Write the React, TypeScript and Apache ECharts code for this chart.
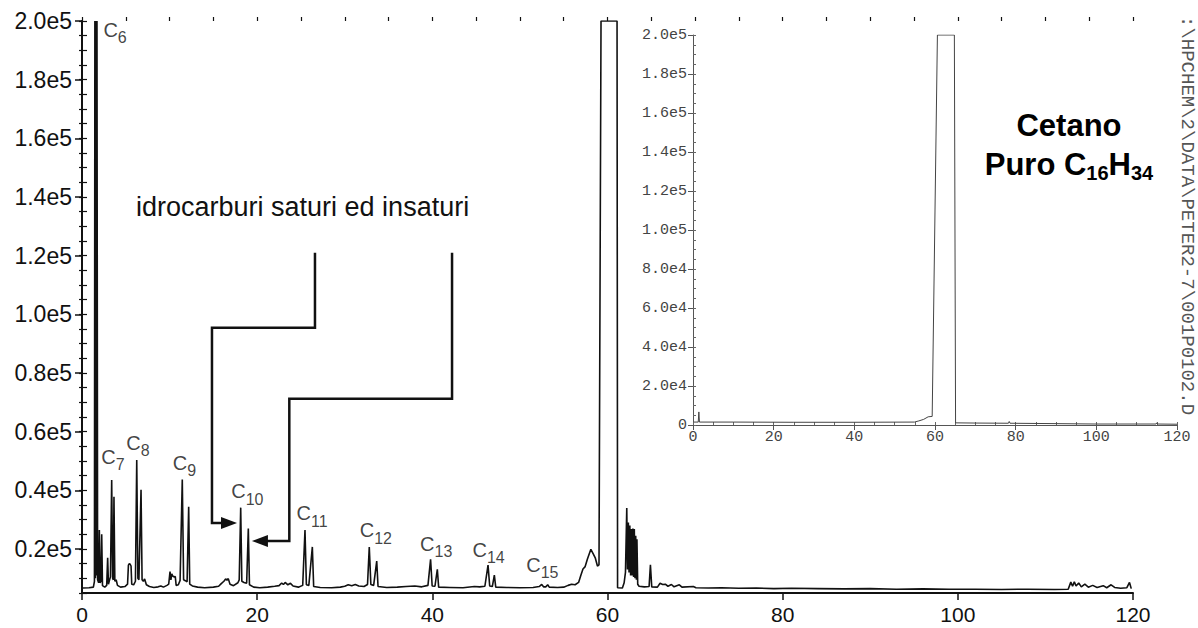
import React, { useEffect, useRef } from "react";
import * as echarts from "echarts";

// ---------- DATA ----------
// main chromatogram: [retention time (min), abundance]
const earlyTrace: [number, number][] = [
  [0.1, 6700], [0.8, 6800], [1.3, 7000], [1.42, 9000], [1.47, 200000], [1.53, 10000], [1.59, 200000],
  [1.65, 11000], [1.71, 200000], [1.78, 9500], [1.9, 8500], [1.98, 26500], [2.06, 8500], [2.16, 9000],
  [2.25, 25000], [2.34, 7500], [2.6, 7000], [2.82, 7600], [2.93, 17000], [3.02, 8000], [3.15, 9500],
  [3.25, 10500], [3.39, 43500], [3.5, 10000], [3.58, 9500], [3.65, 37800], [3.75, 9000], [3.9, 9500],
  [4.05, 7600], [4.4, 7000], [4.9, 7200], [5.2, 8000], [5.3, 14500], [5.4, 15000], [5.5, 14800],
  [5.6, 14200], [5.68, 8000], [5.9, 7800], [6.1, 9000], [6.25, 50300], [6.38, 10000], [6.5, 9500],
  [6.74, 40200], [6.86, 9500], [7.0, 9000], [7.15, 9800], [7.35, 7800], [7.7, 7200], [8.2, 6900],
  [8.7, 7100], [9.0, 7400], [9.3, 7000], [9.7, 7600], [9.9, 8000], [10.05, 12300], [10.15, 9500],
  [10.25, 11500], [10.36, 10800], [10.5, 10500], [10.65, 10600], [10.75, 7600], [11.0, 7800],
  [11.2, 9300], [11.45, 43700], [11.6, 9500], [11.8, 9200], [12.0, 8800], [12.18, 34400], [12.3, 8000],
  [12.6, 7400], [13.2, 7000], [14.0, 6800], [15.0, 7000], [15.6, 7300], [15.9, 8200], [16.2, 9000],
  [16.4, 9800], [16.55, 9400], [16.7, 9900], [16.9, 8000], [17.3, 7500], [17.8, 8500], [17.95, 9500],
  [18.12, 34100], [18.25, 9000], [18.5, 8600], [18.8, 8300], [18.99, 27000], [19.12, 7800], [19.6, 7000],
  [20.3, 6800], [21.2, 7000], [22.0, 7300], [22.5, 7500], [22.8, 8400], [23.0, 7900], [23.2, 8600],
  [23.5, 7800], [23.8, 8300], [24.1, 7400], [24.7, 7000],
];
const midTrace: [number, number][] = [
  [25.2, 7600], [25.46, 26500], [25.62, 7800], [25.9, 7600], [26.3, 20700], [26.45, 7200], [27.2, 6900],
  [28.5, 6800], [29.5, 7000], [30.0, 7300], [30.4, 7800], [30.8, 7500], [31.2, 7900], [31.6, 7400],
  [32.2, 7200], [32.6, 7900], [32.8, 20700], [32.98, 7900], [33.3, 7600], [33.65, 15900], [33.8, 7200],
  [34.8, 6900], [36.0, 7000], [37.0, 7200], [38.0, 7400], [38.8, 7100], [39.5, 7600], [39.8, 16500],
  [39.98, 7400], [40.3, 7300], [40.57, 13100], [40.72, 7000], [42.0, 6900], [43.5, 6800], [44.8, 7200],
  [45.4, 7100], [46.0, 7300], [46.36, 14500], [46.55, 7400], [46.85, 7200], [47.08, 11100], [47.24, 7000],
  [48.5, 6900], [50.0, 6800], [51.5, 6900], [52.2, 7200], [52.49, 7900], [52.7, 7100], [52.95, 7100],
  [53.17, 7800], [53.35, 7000], [54.3, 6900], [55.0, 7000],
];
const cetaneTrace: [number, number][] = [
  [55.5, 7600], [55.9, 8000], [56.3, 7800], [56.7, 8600], [56.95, 11000], [57.2, 13200], [57.45, 14000],
  [57.7, 16500], [58.1, 19900], [58.4, 18200], [58.6, 17000], [58.85, 14200], [59.03, 14600],
  [59.26, 200000], [61.09, 200000], [61.15, 6800], [61.7, 6700], [61.9, 8500], [62.05, 12000],
  [62.2, 34000], [62.28, 13000], [62.38, 29000], [62.46, 12000], [62.55, 28000], [62.64, 11000],
  [62.72, 26800], [62.8, 11000], [62.9, 27000], [62.98, 10500], [63.06, 26800], [63.14, 10000],
  [63.22, 24500], [63.3, 9500], [63.36, 23300], [63.45, 8000], [63.6, 7300], [64.2, 7100], [64.75, 7200],
  [64.9, 14600], [65.05, 7100], [65.7, 7000], [66.0, 8300], [66.3, 7900], [66.6, 8000], [66.9, 7300],
  [67.3, 7900], [67.6, 7100], [68.2, 7800], [68.5, 7000], [69.8, 7200], [70.1, 6800], [71.5, 6700],
];
const lateTrace: [number, number][] = [
  [73, 6800], [75, 6600], [77, 6700], [79, 6500], [81, 6600], [84, 6500], [87, 6400], [90, 6500],
  [93, 6300], [96, 6400], [99, 6300], [102, 6300], [105, 6200], [108, 6300], [111, 6200], [112.6, 6300],
  [112.9, 8700], [113.1, 7300], [113.3, 8800], [113.5, 7400], [113.8, 8400], [114.1, 7100], [114.5, 8000],
  [114.9, 7000], [115.4, 7600], [115.9, 6900], [116.6, 7500], [117.0, 6800], [117.5, 7800], [117.9, 6900],
  [118.6, 6600], [119.3, 6800], [119.6, 8600], [119.8, 6500],
];
// inset: pure cetane
const insetTrace: [number, number][] = [
  [0.2, 1500], [1.3, 1500], [1.45, 6700], [1.6, 1500], [10, 1500], [25, 1400], [40, 1400], [54.9, 1500],
  [56.0, 2100], [57.2, 2900], [58.3, 4200], [59.3, 4400], [60.6, 200000], [64.8, 200000], [65.1, 1100],
  [70, 1000], [78.2, 900], [78.4, 1800], [78.6, 900], [90, 700], [100, 500], [114.8, 500], [115, 1100],
  [115.2, 500], [120, 400],
];

// labelled n-alkane peaks
const carbonNumbers = ["6", "7", "8", "9", "10", "11", "12", "13", "14", "15"];
const labelledPeakTime = [1.59, 3.39, 6.25, 11.45, 18.12, 25.46, 32.8, 39.8, 46.36, 52.49];
const labelledPeakHeight = [200000, 43500, 50300, 43700, 34100, 26500, 20700, 16500, 14500, 7900];

// ticks
const mainYTicks = [20000, 40000, 60000, 80000, 100000, 120000, 140000, 160000, 180000, 200000];

// annotation connectors (data coordinates of the main chart)
const connectorA: [number, number][] = [[26.6, 121000], [26.6, 95400], [14.84, 95400], [14.84, 28900], [17.7, 28900]];
const connectorB: [number, number][] = [[42.25, 121000], [42.25, 71200], [23.67, 71200], [23.67, 22700], [19.4, 22700]];

const annotationText = "idrocarburi saturi ed insaturi";
const filePath = ":\\HPCHEM\\2\\DATA\\PETER2-7\\001P0102.D";

// ---------- STYLE ----------
const SANS = '"Liberation Sans", Arial, Helvetica, sans-serif';
const MONO = '"Liberation Mono", "DejaVu Sans Mono", monospace';
const INK = "#111";
const labelOffsets: [number, number][] = [
  [8, -1], [-10, -33], [-10, -27], [-9, -26], [-9, -26], [-8, -26], [-9, -26], [-10, -25], [-15, -25], [-15, -29],
];

const mainTrace = [...earlyTrace, ...midTrace, ...cetaneTrace, ...lateTrace];

const fmtMain = (v: number) => (v / 100000).toFixed(1) + "e5";
const fmtInset = (v: number) =>
  v === 0 ? "0" : v >= 100000 ? (v / 100000).toFixed(1) + "e5" : (v / 10000).toFixed(1) + "e4";

function buildOption(): any {
  return {
    animation: false,
    backgroundColor: "#fff",
    grid: [
      { left: 82, top: 21, right: 65, bottom: 35 },
      { left: 693, top: 35, right: 21, bottom: 203 },
    ],
    xAxis: [
      {
        gridIndex: 0, type: "value", min: 0, max: 120, interval: 20,
        axisLine: { show: true, onZero: false, lineStyle: { color: INK, width: 2 } },
        axisTick: { show: true, length: 7, lineStyle: { color: INK, width: 1.5 } },
        axisLabel: { color: INK, fontSize: 21, fontFamily: SANS, margin: 11 },
        splitLine: { show: false },
      },
      {
        gridIndex: 0, type: "value", min: 0, max: 120, interval: 5,
        axisLine: { show: false }, axisLabel: { show: false }, splitLine: { show: false },
        axisTick: { show: true, length: 4, lineStyle: { color: INK, width: 1.2 } },
      },
      {
        gridIndex: 1, type: "value", min: 0, max: 120, interval: 20,
        axisLine: { show: true, onZero: false, lineStyle: { color: "#555", width: 1 } },
        axisTick: { show: true, length: 5, lineStyle: { color: "#555", width: 1 } },
        axisLabel: { color: "#444", fontSize: 15, fontFamily: MONO, margin: 5 },
        splitLine: { show: false },
      },
      {
        gridIndex: 1, type: "value", min: 0, max: 120, interval: 5,
        axisLine: { show: false }, axisLabel: { show: false }, splitLine: { show: false },
        axisTick: { show: true, length: 3, lineStyle: { color: "#666", width: 1 } },
      },
    ],
    yAxis: [
      {
        gridIndex: 0, type: "value", min: 5000, max: 200000,
        axisLine: { show: true, onZero: false, lineStyle: { color: INK, width: 2 } },
        axisTick: { show: true, length: 7, customValues: mainYTicks, lineStyle: { color: INK, width: 1.5 } },
        axisLabel: { color: INK, fontSize: 23, fontFamily: SANS, margin: 10, customValues: mainYTicks, formatter: fmtMain },
        splitLine: { show: false },
      },
      {
        gridIndex: 0, type: "value", min: 5000, max: 200000, interval: 5000,
        axisLine: { show: false }, axisLabel: { show: false }, splitLine: { show: false },
        axisTick: { show: true, length: 5, lineStyle: { color: INK, width: 1.2 } },
      },
      {
        gridIndex: 0, type: "value", min: 5000, max: 200000, interval: 5000,
        axisLine: { show: false }, axisLabel: { show: false }, splitLine: { show: false },
        axisTick: { show: true, inside: true, length: 3, lineStyle: { color: INK, width: 1.2 } },
      },
      {
        gridIndex: 1, type: "value", min: 0, max: 200000, interval: 20000,
        axisLine: { show: true, onZero: false, lineStyle: { color: "#555", width: 1 } },
        axisTick: { show: true, length: 5, lineStyle: { color: "#555", width: 1 } },
        axisLabel: { color: "#444", fontSize: 15, fontFamily: MONO, margin: 6, formatter: fmtInset },
        splitLine: { show: false },
      },
      {
        gridIndex: 1, type: "value", min: 0, max: 200000, interval: 5000,
        axisLine: { show: false }, axisLabel: { show: false }, splitLine: { show: false },
        axisTick: { show: true, length: 3, lineStyle: { color: "#666", width: 1 } },
      },
    ],
    series: [
      {
        type: "line", xAxisIndex: 0, yAxisIndex: 0, data: mainTrace, showSymbol: false, symbol: "none",
        lineStyle: { color: INK, width: 1.6 }, silent: true, clip: true,
      },
      {
        type: "line", xAxisIndex: 2, yAxisIndex: 3, data: insetTrace, showSymbol: false, symbol: "none",
        lineStyle: { color: "#444", width: 1 }, silent: true, clip: true,
      },
      {
        type: "scatter", xAxisIndex: 0, yAxisIndex: 0, symbolSize: 1, silent: true,
        itemStyle: { color: "rgba(0,0,0,0)" },
        data: labelledPeakTime.map((t, i) => ({
          value: [t, labelledPeakHeight[i]],
          label: {
            show: true,
            position: labelOffsets[i],
            align: "left",
            verticalAlign: "top",
            formatter: "{c|C}{s|" + carbonNumbers[i] + "}",
            rich: {
              c: { fontSize: 20, fontFamily: SANS, color: INK, lineHeight: 26, verticalAlign: "top" },
              s: { fontSize: 16, fontFamily: SANS, color: INK, lineHeight: 12, verticalAlign: "bottom" },
            },
          },
        })),
      },
    ],
  };
}

export default function App() {
  const ref = useRef<HTMLDivElement>(null);
  useEffect(() => {
    if (!ref.current) return;
    const chart = echarts.init(ref.current, null, { renderer: "svg" });
    chart.setOption(buildOption());
    const px = (p: [number, number]) => chart.convertToPixel({ seriesIndex: 0 }, p) as number[];
    const a = connectorA.map(px);
    const b = connectorB.map(px);
    const aTip = a[a.length - 1];
    const bTip = b[b.length - 1];
    const aLine = a.slice(0, -1).concat([[aTip[0] - 12, aTip[1]]]);
    const bLine = b.slice(0, -1).concat([[bTip[0] + 12, bTip[1]]]);
    const connStyle = { stroke: INK, lineWidth: 2.5, fill: "none", lineJoin: "miter" };
    chart.setOption({
      graphic: [
        { type: "polyline", shape: { points: aLine }, style: connStyle, silent: true },
        { type: "polyline", shape: { points: bLine }, style: connStyle, silent: true },
        {
          type: "polygon", silent: true,
          shape: { points: [[aTip[0], aTip[1]], [aTip[0] - 16, aTip[1] - 6], [aTip[0] - 16, aTip[1] + 6]] },
          style: { fill: INK },
        },
        {
          type: "polygon", silent: true,
          shape: { points: [[bTip[0], bTip[1]], [bTip[0] + 16, bTip[1] - 6], [bTip[0] + 16, bTip[1] + 6]] },
          style: { fill: INK },
        },
        {
          type: "text", x: 136, y: 207, silent: true,
          style: { text: annotationText, font: "27px " + SANS, fill: INK, align: "left", verticalAlign: "middle" },
        },
        {
          type: "text", x: 1069, y: 125, silent: true,
          style: { text: "Cetano", font: "bold 31px " + SANS, fill: "#000", align: "center", verticalAlign: "middle" },
        },
        {
          type: "text", x: 1069, y: 166, silent: true,
          style: {
            text: "{b|Puro C}{s|16}{b|H}{s|34}",
            align: "center", verticalAlign: "middle",
            rich: {
              b: { font: "bold 31px " + SANS, fill: "#000", lineHeight: 34, verticalAlign: "top" },
              s: { font: "bold 20px " + SANS, fill: "#000", lineHeight: 20, verticalAlign: "bottom" },
            },
          },
        },
        {
          type: "text", x: 1187, y: 16, rotation: -Math.PI / 2, silent: true,
          style: { text: filePath, font: "19px " + MONO, fill: "#555", align: "left", verticalAlign: "middle" },
        },
      ],
    });
    return () => chart.dispose();
  }, []);
  return (
    <div
      ref={ref}
      style={{ position: "fixed", left: 0, top: 0, width: 1198, height: 628, background: "#fff" }}
    />
  );
}
